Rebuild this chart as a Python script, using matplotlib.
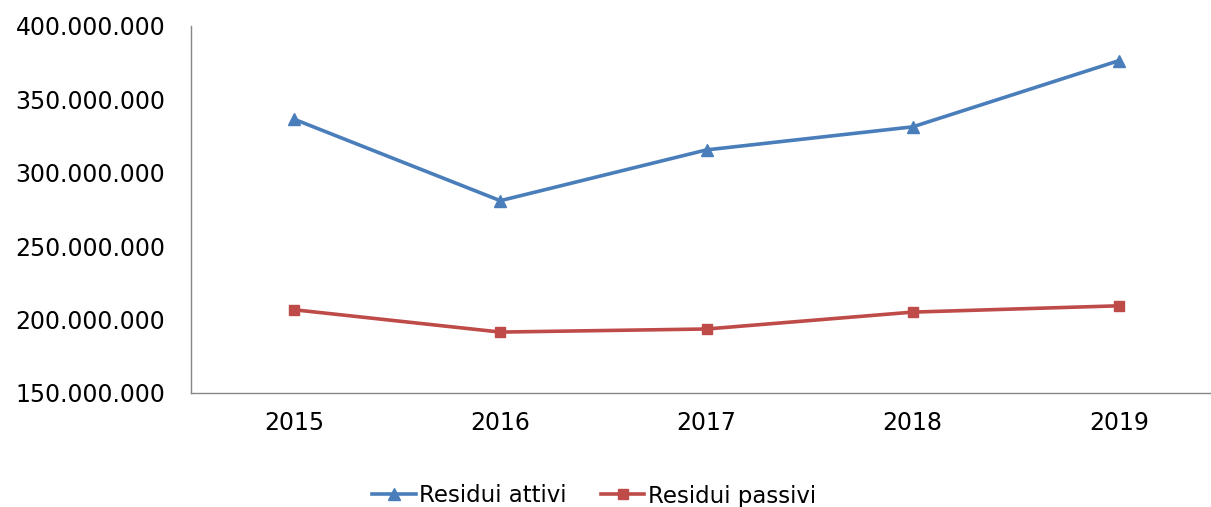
import matplotlib
matplotlib.use("Agg")
import matplotlib.pyplot as plt
from matplotlib.ticker import FuncFormatter

years = ["2015", "2016", "2017", "2018", "2019"]
residui_attivi = [336.5e6, 281.0e6, 315.6e6, 331.3e6, 376.4e6]
residui_passivi = [206.7e6, 191.5e6, 193.6e6, 205.1e6, 209.4e6]

W, H = 1211, 507
fig = plt.figure(figsize=(W / 100, H / 100), dpi=100)
left, right, top, bottom = 191, 1222, 26, 393
ax = fig.add_axes([left / W, 1 - bottom / H, (right - left) / W, (bottom - top) / H])

x = list(range(len(years)))
blue = "#4A7EBB"
red = "#BE4B48"
ax.plot(x, residui_attivi, color=blue, lw=2.6, marker="^", ms=8.5, label="Residui attivi", clip_on=False)
ax.plot(x, residui_passivi, color=red, lw=2.6, marker="s", ms=7.5, label="Residui passivi", clip_on=False)

ax.set_xlim(-0.5, len(years) - 0.5)
ax.set_ylim(150e6, 400e6)
ax.set_yticks([150e6, 200e6, 250e6, 300e6, 350e6, 400e6])
ax.yaxis.set_major_formatter(FuncFormatter(lambda v, p: f"{int(v):,}".replace(",", ".")))
ax.set_xticks(x)
ax.set_xticklabels(years)

for s in ["top", "right"]:
    ax.spines[s].set_visible(False)
for s in ["left", "bottom"]:
    ax.spines[s].set_color("#868686")
    ax.spines[s].set_linewidth(1.0)
ax.tick_params(axis="both", length=0, labelsize=17, colors="black")
ax.tick_params(axis="y", pad=18.5)
ax.tick_params(axis="x", pad=13)
for t in ax.get_yticklabels() + ax.get_xticklabels():
    t.set_family("DejaVu Sans")

fig.legend(loc="center", bbox_to_anchor=(594 / W, 1 - 496 / H), ncol=2, frameon=False,
           handlelength=1.9, handletextpad=0.15, columnspacing=1.5,
           prop={"family": "DejaVu Sans", "size": 16.5})

fig.savefig("out.png", dpi=100)
